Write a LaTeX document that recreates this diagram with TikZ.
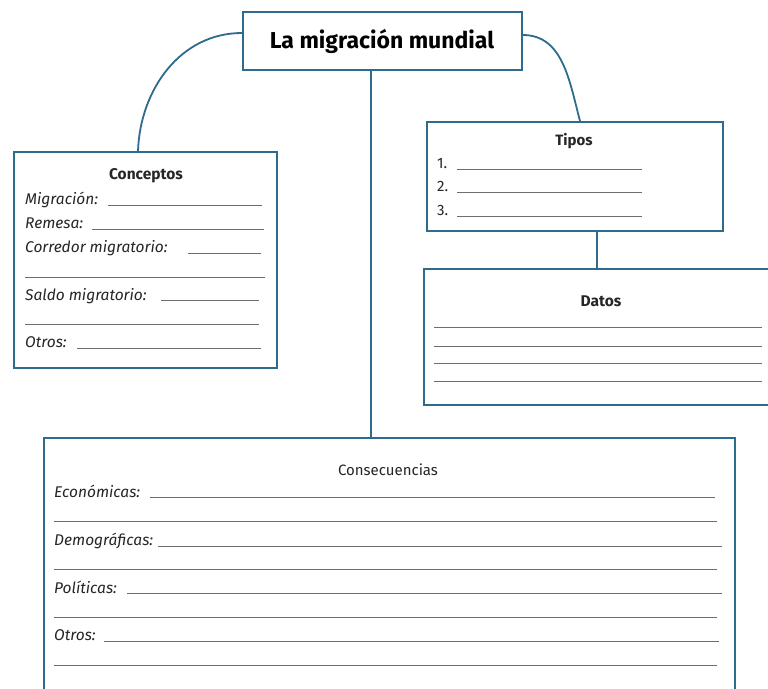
\documentclass[tikz,border=0pt]{standalone}
\usepackage{fontspec}
\setmainfont{Fira Sans}
\usetikzlibrary{calc}
\definecolor{frame}{HTML}{2F6B8C}
\definecolor{rule}{HTML}{6E6E6E}
\tikzset{
  box/.style={draw=frame, line width=1.8pt, fill=white, rectangle, inner sep=0pt, anchor=north west},
  link/.style={draw=frame, line width=1.8pt},
  blank/.style={draw=rule, line width=1pt},
  lab/.style={anchor=base west, inner sep=0pt, font=\fontsize{15.5}{18}\selectfont\itshape, text=black!85},
  num/.style={anchor=base west, inner sep=0pt, font=\fontsize{15}{18}\selectfont, text=black!85},
  head/.style={inner sep=0pt, font=\fontsize{15.5}{18}\selectfont\bfseries, text=black!85},
}
\begin{document}
\begin{tikzpicture}[x=1pt,y=-1pt]
\clip (0,0) rectangle (768,688);
\fill[white] (0,0) rectangle (768,688);
% boxes
\node[box, minimum width=279pt, minimum height=58pt] (title) at (242,11) {};
\node[inner sep=0pt, font=\fontsize{23}{26}\selectfont\bfseries] (titletext) at (382,41) {La migración mundial};
\node[box, minimum width=263pt, minimum height=216pt] (conc) at (13,151) {};
\node[box, minimum width=296pt, minimum height=109pt] (tipos) at (426,121) {};
\node[box, minimum width=352pt, minimum height=136pt] (datos) at (423,268) {};
\node[box, minimum width=691pt, minimum height=262pt] (cons) at (43,437) {};
% connectors
\coordinate (cx1) at (371,0);
\coordinate (cx2) at (597,0);
\draw[link] ($(title.north west)+(0,22)$) to[out=180,in=88] ($(conc.north west)+(125,0)$);
\draw[link] ($(title.north east)+(0,24)$) to[out=0,in=105] ($(tipos.north west)+(154,0)$);
\draw[link] (title.south -| cx1) -- (cons.north -| cx1);
\draw[link] (tipos.south -| cx2) -- (datos.north -| cx2);
% Conceptos
\node[head] (hc) at (146,176) {Conceptos};
\node[lab] (c1) at (25,204) {Migración:};
\draw[blank] (108,205) -- (262,205);
\node[lab] (c2) at (25,228) {Remesa:};
\draw[blank] (92,229) -- (264,229);
\node[lab] (c3) at (25,252) {Corredor migratorio:};
\draw[blank] (188,253) -- (261,253);
\draw[blank] (25,277) -- (265,277);
\node[lab] (c4) at (25,300) {Saldo migratorio:};
\draw[blank] (161,300) -- (259,300);
\draw[blank] (25,324) -- (259,324);
\node[lab] (c5) at (25,347) {Otros:};
\draw[blank] (77,348) -- (261,348);
% Tipos
\node[head, font=\fontsize{15}{18}\selectfont\bfseries] (ht) at (574,141) {Tipos};
\node[num] (t1) at (437,168) {1.};
\draw[blank] (457,169) -- (642,169);
\node[num] (t2) at (437,191) {2.};
\draw[blank] (457,192) -- (642,192);
\node[num] (t3) at (437,215) {3.};
\draw[blank] (457,216) -- (642,216);
% Datos
\node[head] (hd) at (601,301) {Datos};
\draw[blank] (434,327) -- (762,327);
\draw[blank] (434,346) -- (762,346);
\draw[blank] (434,363) -- (762,363);
\draw[blank] (434,381) -- (762,381);
% Consecuencias
\node[head, font=\fontsize{15}{18}\selectfont] (hcs) at (388,470) {Consecuencias};
\node[lab] (e1) at (54,497) {Económicas:};
\draw[blank] (150,497) -- (715,497);
\draw[blank] (54,521) -- (717,521);
\node[lab] (e2) at (54,545) {Demográficas:};
\draw[blank] (158,546) -- (722,546);
\draw[blank] (54,569) -- (717,569);
\node[lab] (e3) at (54,593) {Políticas:};
\draw[blank] (127,593) -- (722,593);
\draw[blank] (54,617) -- (717,617);
\node[lab] (e4) at (54,640) {Otros:};
\draw[blank] (104,641) -- (719,641);
\draw[blank] (54,665) -- (717,665);
\end{tikzpicture}
\end{document}
